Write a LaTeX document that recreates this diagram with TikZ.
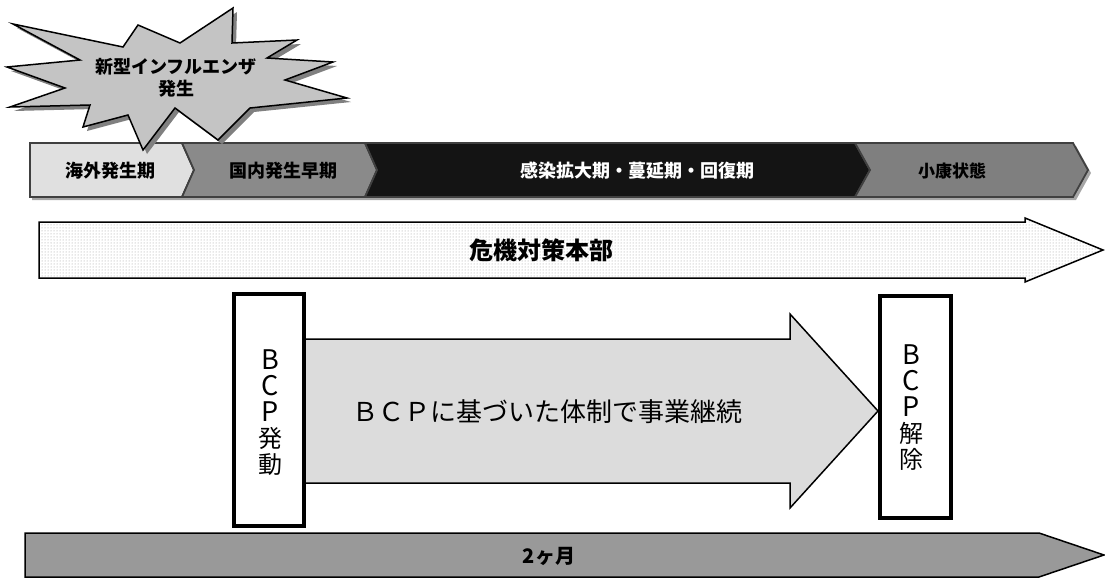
\documentclass[tikz,border=0pt]{standalone}
\usepackage{fontspec}
\newfontfamily\jp{Noto Sans CJK JP}
\usetikzlibrary{patterns}
\definecolor{pA}{HTML}{E0E0E0}
\definecolor{pB}{HTML}{8A8A8A}
\definecolor{pC}{HTML}{141414}
\definecolor{pD}{HTML}{7F7F7F}
\definecolor{burst}{HTML}{C4C4C4}
\definecolor{bcpfill}{HTML}{DCDCDC}
\definecolor{monthfill}{HTML}{999999}
\newcommand{\bigL}[1]{{\fontsize{27}{26}\selectfont #1}}
\begin{document}
\begin{tikzpicture}[x=1pt,y=-1pt,
  phase/.style={draw=black!75, line width=1.8pt, line join=miter},
  ptext/.style={font=\jp\bfseries\fontsize{18}{18}\selectfont, inner sep=0},
  vbox/.style={draw=black, line width=4pt, fill=white},
  vtext/.style={font=\jp\fontsize{24}{26}\selectfont, align=center, inner sep=0},
  bigarrow/.style={draw=black, line width=1.5pt, line join=miter}]
\useasboundingbox (0,0) rectangle (1105,579);

% ---- phase bar shadow
\fill[black!35] (32,146) -- (1076,146) -- (1091,173) -- (1076,200) -- (32,200) -- cycle;
% ---- phase bar
\draw[phase, fill=pA] (30,143) -- (182,143) -- (194,170) -- (182,197) -- (30,197) -- cycle;
\draw[phase, fill=pB] (182,143) -- (365,143) -- (377,170) -- (365,197) -- (182,197) -- (194,170) -- cycle;
\draw[phase, fill=pC] (365,143) -- (855,143) -- (870,170) -- (855,197) -- (365,197) -- (377,170) -- cycle;
\draw[phase, fill=pD] (855,143) -- (1073,143) -- (1088,170) -- (1073,197) -- (855,197) -- (870,170) -- cycle;
\node[ptext] (p1) at (110,171) {海外発生期};
\node[ptext] (p2) at (283,171) {国内発生早期};
\node[ptext, text=white] (p3) at (637,171) {感染拡大期・蔓延期・回復期};
\node[ptext, font=\jp\bfseries\fontsize{17}{17}\selectfont] (p4) at (952,171) {小康状態};

% ---- starburst
\def\burstpath{(13,24) -- (123,47) -- (138,25) -- (180,43) -- (233,8) -- (232,43) -- (297,40) -- (267,58) -- (333,62) -- (285,80) -- (347,98) -- (250,108) -- (218,140) -- (175,108) -- (143,150) -- (128,115) -- (83,127) -- (90,105) -- (10,107) -- (65,88) -- (7,67) -- (80,60) -- cycle}
\begin{scope}[shift={(4,4)}]
\fill[black!50] \burstpath;
\end{scope}
\draw[fill=burst, line width=1.5pt, line join=miter] \burstpath;
\node[align=center, inner sep=0, font=\jp\bfseries\fontsize{18}{22}\selectfont] (flu) at (176,78) {新型インフルエンザ\\発生};

% ---- crisis HQ arrow
\draw[bigarrow, preaction={fill=white}, pattern=dots, pattern color=black!40]
  (39,222) -- (1025,222) -- (1025,218) -- (1103,250) -- (1025,282) -- (1025,278) -- (39,278) -- cycle;
\node[inner sep=0, font=\jp\bfseries\fontsize{24}{24}\selectfont] (hq) at (541,250) {危機対策本部};

% ---- BCP continuation arrow
\draw[bigarrow, fill=bcpfill]
  (305,339) -- (790,339) -- (790,314) -- (878,411) -- (790,508) -- (790,483) -- (305,483) -- cycle;
\node[inner sep=0, font=\jp\fontsize{26}{26}\selectfont] (cont) at (547,412) {ＢＣＰに基づいた体制で事業継続};

% ---- BCP start / end boxes
\draw[vbox] (234,294) rectangle (304,526);
\node[vtext] (start) at (270,413) {\bigL{B}\\\bigL{C}\\\bigL{P}\\発\\動};
\draw[vbox] (880,296) rectangle (951,518);
\node[vtext] (end) at (911,408) {\bigL{B}\\\bigL{C}\\\bigL{P}\\解\\除};

% ---- two-month arrow
\draw[bigarrow, fill=monthfill]
  (25,533) -- (1039,533) -- (1104,555) -- (1039,577) -- (25,577) -- cycle;
\node[inner sep=0, font=\jp\bfseries\fontsize{20}{20}\selectfont] (two) at (549,556) {2ヶ月};
\end{tikzpicture}
\end{document}
